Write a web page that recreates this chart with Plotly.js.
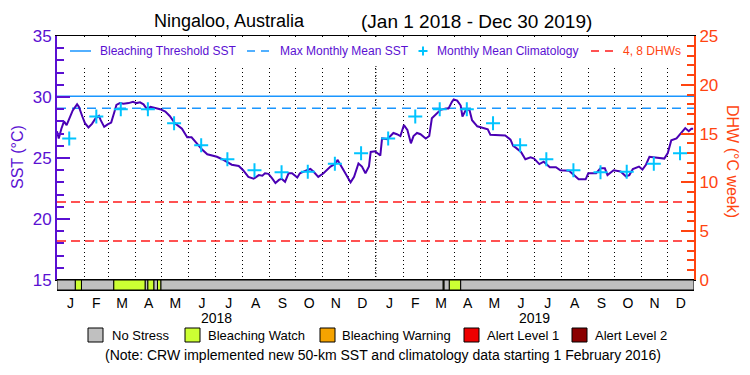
<!DOCTYPE html>
<html>
<head>
<meta charset="utf-8">
<script src="https://cdn.plot.ly/plotly-3.0.1.min.js"></script>
<style>html,body{margin:0;padding:0;background:#fff;}#chart{width:750px;height:375px;}</style>
</head>
<body>
<div id="chart"></div>
<script>
// ---------------- DATA ----------------
const sstDates = ['2018-01-01','2018-01-03','2018-01-06','2018-01-09','2018-01-12','2018-01-15','2018-01-19','2018-01-24','2018-01-26','2018-01-30',
'2018-02-02','2018-02-06','2018-02-10','2018-02-14','2018-02-18','2018-02-20','2018-02-24','2018-02-28','2018-03-04','2018-03-08',
'2018-03-10','2018-03-14','2018-03-18','2018-03-24','2018-03-29','2018-04-02','2018-04-06','2018-04-10','2018-04-14','2018-04-18',
'2018-04-23','2018-04-29','2018-05-05','2018-05-10','2018-05-16','2018-05-24','2018-05-30','2018-06-04','2018-06-10','2018-06-16',
'2018-06-22','2018-06-27','2018-07-03','2018-07-09','2018-07-14','2018-07-20','2018-07-28','2018-08-02','2018-08-08','2018-08-14',
'2018-08-20','2018-08-24','2018-08-27','2018-08-31','2018-09-04','2018-09-08','2018-09-12','2018-09-15','2018-09-19','2018-09-23',
'2018-09-27','2018-09-30','2018-10-03','2018-10-06','2018-10-10','2018-10-14','2018-10-18','2018-10-22','2018-10-27','2018-11-02',
'2018-11-10','2018-11-16','2018-11-18','2018-11-21','2018-11-27','2018-12-03','2018-12-07','2018-12-12','2018-12-16','2018-12-20',
'2018-12-24','2018-12-26','2018-12-31','2019-01-06','2019-01-08','2019-01-14','2019-01-18','2019-01-21','2019-01-25','2019-01-29',
'2019-02-02','2019-02-06','2019-02-10','2019-02-13','2019-02-17','2019-02-21','2019-02-27','2019-03-03','2019-03-06','2019-03-10',
'2019-03-16','2019-03-22','2019-03-25','2019-03-29','2019-03-31','2019-04-04','2019-04-08','2019-04-10','2019-04-14','2019-04-18',
'2019-04-21','2019-04-27','2019-05-03','2019-05-09','2019-05-12','2019-05-20','2019-05-29','2019-06-04','2019-06-07','2019-06-10',
'2019-06-16','2019-06-21','2019-06-27','2019-07-01','2019-07-07','2019-07-12','2019-07-19','2019-07-26','2019-07-31','2019-08-10',
'2019-08-16','2019-08-21','2019-08-29','2019-09-01','2019-09-10','2019-09-15','2019-09-20','2019-09-23','2019-09-30','2019-10-08',
'2019-10-14','2019-10-18','2019-10-22','2019-10-29','2019-11-02','2019-11-06','2019-11-10','2019-11-19','2019-11-27','2019-12-01',
'2019-12-05','2019-12-11','2019-12-18','2019-12-21','2019-12-25','2019-12-28','2019-12-30'];
const sstValues = [27.2,26.6,27.4,28.0,27.7,28.2,28.9,29.4,29.2,28.4,
27.85,27.5,27.8,28.25,28.45,28.1,27.55,27.75,27.9,28.85,
29.35,29.5,29.45,29.5,29.6,29.5,29.56,29.4,29.0,29.2,
29.1,29.0,28.8,28.45,27.85,27.4,26.7,26.7,26.2,25.7,
25.3,25.2,25.1,24.9,24.7,24.45,24.35,24.0,23.45,23.3,
23.6,23.55,23.75,23.7,23.35,22.95,23.2,23.3,23.05,23.75,
23.75,23.55,23.4,23.75,23.9,24.0,24.1,23.85,23.45,23.75,
24.3,24.55,24.85,24.45,23.75,23.0,23.45,24.55,24.3,23.75,
24.3,25.5,25.55,25.2,26.6,26.55,26.8,27.05,26.95,26.8,
27.7,27.3,26.2,26.8,27.05,26.95,26.6,26.8,28.25,28.5,
28.95,29.05,29.05,29.6,29.8,29.7,29.3,28.4,28.95,28.95,
28.1,27.6,27.45,27.35,26.9,26.87,26.85,26.5,26.0,25.85,
25.5,24.9,25.05,24.95,24.5,24.7,24.25,24.25,24.0,23.95,
23.6,23.25,23.25,23.75,23.75,24.15,24.15,23.6,24.0,23.9,
23.5,23.6,24.1,24.3,24.05,24.45,25.1,25.05,24.95,25.4,
26.45,26.6,27.15,27.45,27.2,27.4,27.4];

const climDates = ['2018-01-15','2018-02-15','2018-03-15','2018-04-15','2018-05-15','2018-06-15','2018-07-15','2018-08-15','2018-09-15','2018-10-15','2018-11-15','2018-12-15',
'2019-01-15','2019-02-15','2019-03-15','2019-04-15','2019-05-15','2019-06-15','2019-07-15','2019-08-15','2019-09-15','2019-10-15','2019-11-15','2019-12-15'];
const climValues = [26.6,28.4,29.0,29.0,27.85,26.05,24.9,24.0,23.83,23.88,24.52,25.38,
26.6,28.4,29.0,29.0,27.85,26.05,24.9,24.0,23.83,23.88,24.52,25.38];

const periodStart = '2018-01-01';
const periodEnd = '2019-12-31';
const yearBoundary = '2019-01-01';
const bleachingThreshold = 30.07;
const maxMonthlyMean = 29.07;
const dhwLevels = [4, 8];

// stress-level strip: 0 = No Stress, 1 = Bleaching Watch
const stripStart = ['2018-01-01','2018-01-22','2018-01-29','2018-03-07','2018-04-12','2018-04-15','2018-04-22','2018-04-26','2018-04-30','2019-03-19','2019-03-20','2019-03-26','2019-04-08'];
const stripEnd   = ['2018-01-22','2018-01-29','2018-03-07','2018-04-12','2018-04-15','2018-04-22','2018-04-26','2018-04-30','2019-03-19','2019-03-20','2019-03-26','2019-04-08','2019-12-31'];
const stripLevel = [0,1,0,1,0,1,0,1,0,1,0,1,0];

const stressNames = ['No Stress','Bleaching Watch','Bleaching Warning','Alert Level 1','Alert Level 2'];
const monthAlias = {Jan:'J',Feb:'F',Mar:'M',Apr:'A',May:'M',Jun:'J',Jul:'J',Aug:'A',Sep:'S',Oct:'O',Nov:'N',Dec:'D'};
const yearLabels = ['2018','2019'];
const yearCenters = ['2018-07-02','2019-07-02'];

// ---------------- STYLE ----------------
const FONT = 'Liberation Sans, Arial, sans-serif';
const PURPLE = '#5a10d2';
const LINEPURPLE = '#4a00b4';
const ORANGE = '#ff4410';
const BLUE = '#1a96ff';
const CYAN = '#00c4ff';
const RED = '#ff1a1a';
const stressColors = ['#c0c0c0','#ccff33','#f5a300','#ee0000','#8b0000'];

// pixel -> paper helpers (plot area: x 57..694, y 36..290)
const L = 57, R = 694, T = 36, B = 290;
const px = x => (x - L) / (R - L);
const py = y => (B - y) / (B - T);

// ---------------- TRACES ----------------
const toMs = d => Date.parse(d);
const stripMid = stripStart.map((s, i) => new Date((toMs(s) + toMs(stripEnd[i])) / 2).toISOString());
const stripWidth = stripStart.map((s, i) => toMs(stripEnd[i]) - toMs(s));

const traces = [
  {type:'scatter', mode:'lines', x:[periodStart, periodEnd], y:[dhwLevels[0], dhwLevels[0]], yaxis:'y2',
   line:{color:RED, width:1.5, dash:'9px,5px'}, showlegend:false, hoverinfo:'skip'},
  {type:'scatter', mode:'lines', x:[periodStart, periodEnd], y:[dhwLevels[1], dhwLevels[1]], yaxis:'y2',
   line:{color:RED, width:1.5, dash:'9px,5px'}, showlegend:false, hoverinfo:'skip'},
  {type:'scatter', mode:'lines', x:[periodStart, periodEnd], y:[bleachingThreshold, bleachingThreshold],
   line:{color:BLUE, width:1.5}, showlegend:false},
  {type:'scatter', mode:'lines', x:[periodStart, periodEnd], y:[maxMonthlyMean, maxMonthlyMean],
   line:{color:BLUE, width:1.5, dash:'9px,6px'}, showlegend:false},
  {type:'scatter', mode:'lines', x:sstDates, y:sstValues,
   line:{color:LINEPURPLE, width:2}, showlegend:false},
  {type:'scatter', mode:'markers', x:climDates, y:climValues,
   marker:{symbol:'cross-thin', size:10, line:{color:CYAN, width:2}}, showlegend:false},
  {type:'bar', x:stripMid, y:stripLevel.map(() => 1), width:stripWidth, base:0, yaxis:'y3',
   marker:{color:stripLevel.map(l => stressColors[l]), line:{color:'#000', width:1}},
   showlegend:false, hoverinfo:'skip'}
];

// ---------------- LAYOUT ----------------
const ann = [];
const shapes = [];
const txt = (text, x, y, opts) => Object.assign({text, x:px(x), y:py(y), xref:'paper', yref:'paper',
  showarrow:false, xanchor:'left', yanchor:'middle', font:{family:FONT, size:12, color:PURPLE}}, opts||{});

// title
ann.push(txt('Ningaloo, Australia', 229, 21, {xanchor:'center', font:{family:FONT, size:18, color:'#000'}}));
ann.push(txt('(Jan 1 2018 - Dec 30 2019)', 476, 21, {xanchor:'center', font:{family:FONT, size:19, color:'#000'}}));

// denser dotted line at the year boundary
shapes.push({type:'line', xref:'x', yref:'paper', x0:yearBoundary, x1:yearBoundary, y0:py(280), y1:1,
  line:{color:'#000', width:1, dash:'1px,2px'}, layer:'below'});
// white legend band covering gridlines
shapes.push({type:'rect', xref:'paper', yref:'paper', x0:px(71), x1:px(680), y0:py(65), y1:py(37.5),
  fillcolor:'#fff', line:{width:0}, layer:'above'});
// in-plot legend
shapes.push({type:'line', xref:'paper', yref:'paper', x0:px(70), x1:px(91), y0:py(51), y1:py(51), line:{color:BLUE, width:1.5}, layer:'above'});
ann.push(txt('Bleaching Threshold SST', 98, 51));
shapes.push({type:'line', xref:'paper', yref:'paper', x0:px(247), x1:px(272), y0:py(51), y1:py(51), line:{color:BLUE, width:1.5, dash:'8px,6px'}, layer:'above'});
ann.push(txt('Max Monthly Mean SST', 278, 51));
shapes.push({type:'line', xref:'paper', yref:'paper', x0:px(418.5), x1:px(427.5), y0:py(51), y1:py(51), line:{color:CYAN, width:2}, layer:'above'});
shapes.push({type:'line', xref:'paper', yref:'paper', x0:px(423), x1:px(423), y0:py(46.5), y1:py(55.5), line:{color:CYAN, width:2}, layer:'above'});
ann.push(txt('Monthly Mean Climatology', 435, 51));
shapes.push({type:'line', xref:'paper', yref:'paper', x0:px(591), x1:px(615), y0:py(51), y1:py(51), line:{color:RED, width:1.5, dash:'8px,6px'}, layer:'above'});
ann.push(txt('4, 8 DHWs', 621, 51, {font:{family:FONT, size:12, color:ORANGE}}));

// axis titles
ann.push(txt('SST (°C)', 17, 157, {xanchor:'center', textangle:-90, font:{family:FONT, size:16, color:PURPLE}}));
ann.push(txt('DHW (°C week)', 733, 161, {xanchor:'center', textangle:90, font:{family:FONT, size:16, color:ORANGE}}));

// years
yearLabels.forEach((y, i) => ann.push({text:y, x:yearCenters[i], xref:'x', y:py(318), yref:'paper', showarrow:false,
  xanchor:'center', yanchor:'middle', font:{family:FONT, size:14, color:'#000'}}));

// stress legend
const sqX = [88, 185, 320, 464, 572];
const lblX = [110, 206, 340, 485, 593];
stressNames.forEach((n, i) => {
  shapes.push({type:'rect', xref:'paper', yref:'paper', x0:px(sqX[i]), x1:px(sqX[i] + 15), y0:py(342), y1:py(328),
    fillcolor:stressColors[i], line:{color:'#000', width:1}});
  ann.push(txt(n, lblX[i], 335, {font:{family:FONT, size:13, color:'#000'}}));
});
ann.push(txt('(Note: CRW implemented new 50-km SST and climatology data starting 1 February 2016)', 383, 355,
  {xanchor:'center', font:{family:FONT, size:14, color:'#000'}}));

const stripTop = py(280);

const layout = {
  width:750, height:375,
  margin:{l:L, r:750 - R, t:T, b:375 - B, pad:0},
  paper_bgcolor:'#fff', plot_bgcolor:'#fff',
  font:{family:FONT, color:'#000'},
  showlegend:false,
  xaxis:{domain:[0,1], anchor:'y3', type:'date', range:[periodStart, periodEnd],
    tickmode:'linear', tick0:'2018-01-01', dtick:'M1', tickformat:'%b', ticklabelmode:'period',
    labelalias:monthAlias, ticks:'', tickfont:{family:FONT, size:14, color:'#000'},
    showgrid:true, gridcolor:'#000', griddash:'1px,3px', gridwidth:1,
    showline:true, linecolor:'#000', linewidth:1, mirror:'all', zeroline:false, fixedrange:true},
  yaxis:{domain:[stripTop, 1], range:[15, 35], tick0:15, dtick:5, ticks:'inside', ticklen:13, tickwidth:2,
    tickcolor:PURPLE, showline:true, linecolor:PURPLE, linewidth:2, showgrid:false, zeroline:false,
    tickfont:{family:FONT, size:17, color:PURPLE},
    minor:{dtick:1, tick0:15, ticks:'inside', ticklen:7, tickwidth:2, tickcolor:PURPLE, showgrid:false}},
  yaxis2:{overlaying:'y', side:'right', range:[0, 25], tick0:0, dtick:5, ticks:'inside', ticklen:13, tickwidth:2,
    tickcolor:ORANGE, showline:true, linecolor:ORANGE, linewidth:2, showgrid:false, zeroline:false,
    tickfont:{family:FONT, size:17, color:ORANGE},
    minor:{dtick:1, tick0:0, ticks:'inside', ticklen:7, tickwidth:2, tickcolor:ORANGE, showgrid:false}},
  yaxis3:{domain:[0, stripTop], range:[0, 1], showticklabels:false, showgrid:false, zeroline:false, showline:false, ticks:''},
  annotations:ann,
  shapes:shapes,
  bargap:0
};

Plotly.newPlot('chart', traces, layout, {staticPlot:true, displayModeBar:false});
</script>
</body>
</html>
